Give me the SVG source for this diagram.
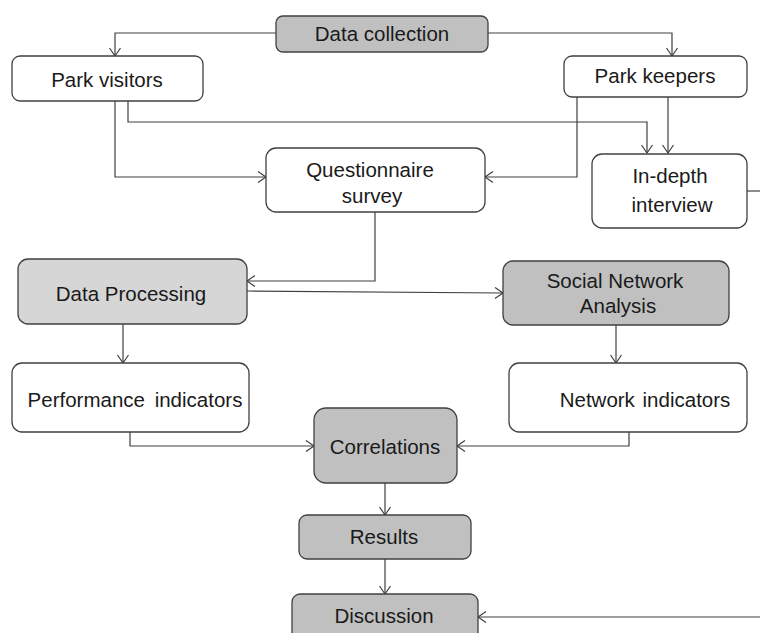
<svg xmlns="http://www.w3.org/2000/svg" width="760" height="633" viewBox="0 0 760 633">
<style>
.box{stroke:#404040;stroke-width:1.3;fill:#ffffff}
.dark{fill:#c0c0c0}
.light{fill:#d6d6d6}
text{font-family:"Liberation Sans",Arial,sans-serif;font-size:20.5px;fill:#1a1a1a;text-anchor:middle}
.conn path{fill:none;stroke:#404040;stroke-width:1.2}
</style>
<defs>
<marker id="arr" markerUnits="userSpaceOnUse" markerWidth="14" markerHeight="14" viewBox="-10 -7 12 14" refX="0" refY="0" orient="auto">
<path d="M-8,-5.5 L0,0 L-8,5.5" fill="none" stroke="#404040" stroke-width="1.2"/>
</marker>
</defs>
<rect width="760" height="633" fill="#ffffff"/>
<g class="conn">
<path d="M276,33 H115 V56" marker-end="url(#arr)"/>
<path d="M488,33 H672 V56" marker-end="url(#arr)"/>
<path d="M128,101 V122 H647 V153" marker-end="url(#arr)"/>
<path d="M115,101 V177 H266" marker-end="url(#arr)"/>
<path d="M577,97 V177 H485" marker-end="url(#arr)"/>
<path d="M668,97 V153" marker-end="url(#arr)"/>
<path d="M375,212 V281 H247" marker-end="url(#arr)"/>
<path d="M247,291 L503,293" marker-end="url(#arr)"/>
<path d="M123,324 V363" marker-end="url(#arr)"/>
<path d="M616,325 V363" marker-end="url(#arr)"/>
<path d="M130,432 V446 H314" marker-end="url(#arr)"/>
<path d="M629,432 V446 H457" marker-end="url(#arr)"/>
<path d="M385,483 V515" marker-end="url(#arr)"/>
<path d="M385,559 V594" marker-end="url(#arr)"/>
<path d="M747,191 H760"/>
<path d="M760,617 H478" marker-end="url(#arr)"/>
</g>
<g id="data-collection"><rect class="box dark" x="276" y="16" width="212" height="36" rx="7"/><text x="382" y="41">Data collection</text></g>
<g id="park-visitors"><rect class="box" x="12" y="56" width="191" height="45" rx="8"/><text x="107" y="87">Park visitors</text></g>
<g id="park-keepers"><rect class="box" x="564" y="56" width="183" height="41" rx="8"/><text x="655" y="83">Park keepers</text></g>
<g id="questionnaire"><rect class="box" x="266" y="148" width="219" height="64" rx="10"/><text x="370" y="177">Questionnaire</text><text x="372" y="203">survey</text></g>
<g id="in-depth"><rect class="box" x="592" y="154" width="155" height="74" rx="10"/><text x="670" y="183">In-depth</text><text x="672" y="212">interview</text></g>
<g id="data-processing"><rect class="box light" x="18" y="259" width="229" height="65" rx="10"/><text x="131" y="301">Data Processing</text></g>
<g id="sna"><rect class="box dark" x="503" y="261" width="226" height="64" rx="10"/><text x="615" y="288">Social Network</text><text x="618" y="313">Analysis</text></g>
<g id="performance"><rect class="box" x="12" y="363" width="237" height="69" rx="10"/><text x="135" y="407" word-spacing="4">Performance indicators</text></g>
<g id="network-indicators"><rect class="box" x="509" y="363" width="238" height="69" rx="10"/><text x="645" y="407" word-spacing="2">Network indicators</text></g>
<g id="correlations"><rect class="box dark" x="314" y="408" width="143" height="75" rx="12"/><text x="385" y="454">Correlations</text></g>
<g id="results"><rect class="box dark" x="299" y="515" width="172" height="44" rx="8"/><text x="384" y="544">Results</text></g>
<g id="discussion"><rect class="box dark" x="292" y="594" width="186" height="55" rx="8"/><text x="384" y="623">Discussion</text></g>
</svg>
